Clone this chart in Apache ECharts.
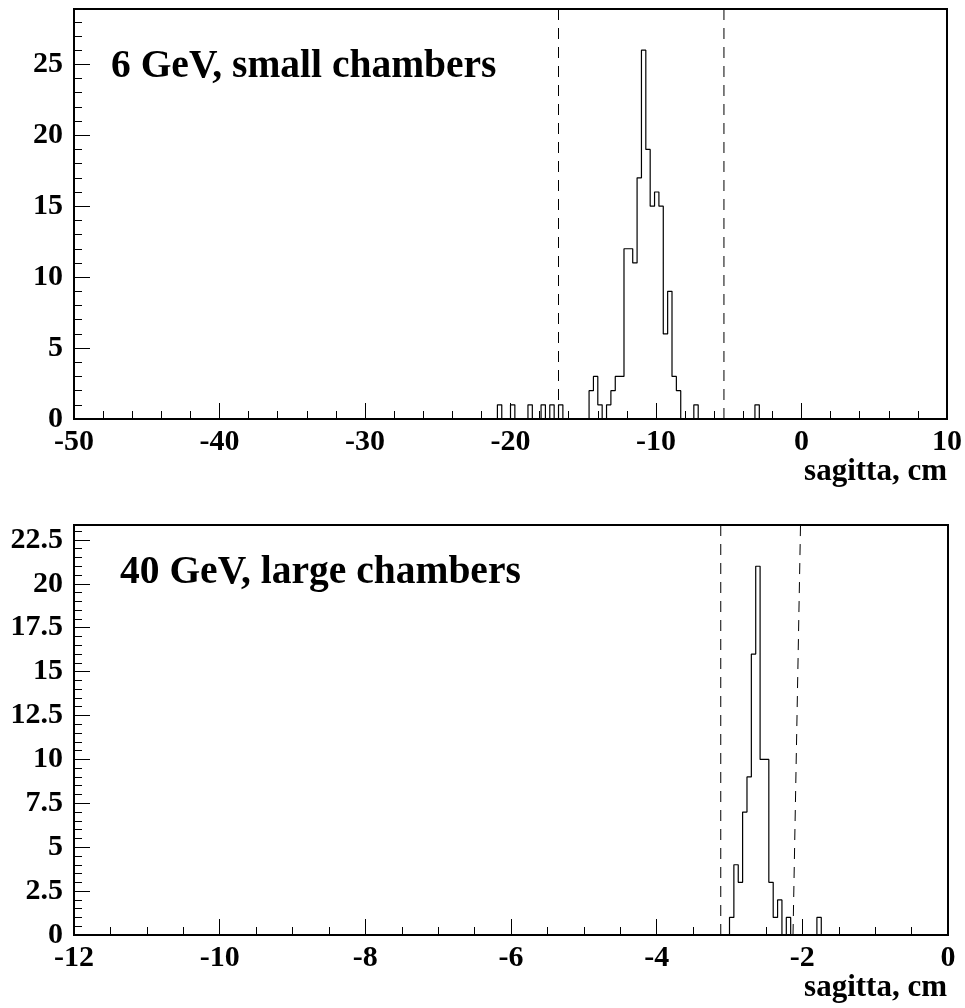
<!DOCTYPE html>
<html>
<head>
<meta charset="utf-8">
<script src="https://cdn.jsdelivr.net/npm/echarts@6/dist/echarts.min.js"></script>
<style>
html,body{margin:0;padding:0;background:#fff;}
#chart{width:965px;height:1008px;}
</style>
</head>
<body>
<div id="chart"></div>
<script>
// ---------- data ----------
const titles = ['6 GeV, small chambers', '40 GeV, large chambers'];
const xTitle = 'sagitta, cm';

// top histogram: 0.3 cm bins starting at -20.9
const topStart = -20.9;
const topWidth = 0.3;
const topCounts = [1,0,0,1,0,0,0,1,0,0,1,0,1,0,1,0,0,0,0,0,0,
  2,3,1,0,1,2,3,3,12,12,11,17,26,19,15,16,15,6,9,3,2,
  0,0,0,1,0,0,0,0,0,0,0,0,0,0,0,0,0,1];
const topCuts = [[-16.7, -16.7], [-5.33, -5.33]];     // [x at bottom, x at top]
const topXRange = [-50, 10];
const topYMax = 28.9;
const topYMajor = [0, 5, 10, 15, 20, 25];
const topYMinor = [1,2,3,4,6,7,8,9,11,12,13,14,16,17,18,19,21,22,23,24,26,27,28];

// bottom histogram: 0.06 cm bins starting at -3.0
const botStart = -3.0;
const botWidth = 0.06;
const botCounts = [1,4,3,7,9,16,21,10,10,3,1,2,0,1,0,0,0,0,0,0,1];
const botCuts = [[-3.12, -3.12], [-2.128, -2.025]];
const botXRange = [-12, 0];
const botYMax = 23.35;
const botYMajor = [0, 2.5, 5, 7.5, 10, 12.5, 15, 17.5, 20, 22.5];
const botYMinor = [0.5,1,1.5,2,3,3.5,4,4.5,5.5,6,6.5,7,8,8.5,9,9.5,10.5,11,11.5,12,13,13.5,14,14.5,
  15.5,16,16.5,17,18,18.5,19,19.5,20.5,21,21.5,22,23];

// ---------- helpers ----------
const FONT = 'Liberation Serif';
function r(v){ return Math.round(v * 100000) / 100000; }
function histPoints(start, width, counts){
  const pts = [[r(start), 0]];
  counts.forEach((c, i) => pts.push([r(start + i * width), c]));
  pts.push([r(start + counts.length * width), 0]);
  return pts;
}
const black = '#000';
function xAxis(gi, range, interval, minorSplit){
  return {
    gridIndex: gi, type: 'value', min: range[0], max: range[1], interval: interval,
    axisLine: {show: true, onZero: false, lineStyle: {color: black, width: 2}},
    axisTick: {show: true, inside: true, length: 16, lineStyle: {color: black, width: 1}},
    minorTick: {show: true, splitNumber: minorSplit, length: 8, lineStyle: {color: black, width: 1}},
    splitLine: {show: false}, minorSplitLine: {show: false},
    axisLabel: {fontFamily: FONT, fontWeight: 'bold', fontSize: 30, color: black, margin: 8}
  };
}
function yAxes(gi, max, major, minor){
  return [{
    gridIndex: gi, type: 'value', min: 0, max: max, position: 'left',
    axisLine: {show: true, onZero: false, lineStyle: {color: black, width: 2}},
    axisTick: {show: true, inside: true, length: 16, customValues: major, lineStyle: {color: black, width: 1}},
    splitLine: {show: false},
    axisLabel: {customValues: major, fontFamily: FONT, fontWeight: 'bold', fontSize: 30, color: black, margin: 11}
  }, {
    gridIndex: gi, type: 'value', min: 0, max: max, position: 'left',
    axisLine: {show: false, onZero: false},
    axisTick: {show: true, inside: true, length: 8, customValues: minor, lineStyle: {color: black, width: 1}},
    splitLine: {show: false},
    axisLabel: {show: false}
  }];
}
function cutSeries(cuts, xi, yi, ymax){
  return cuts.map(c => ({
    type: 'line', xAxisIndex: xi, yAxisIndex: yi, symbol: 'none', silent: true,
    data: [[c[0], 0], [c[1], ymax]],
    lineStyle: {color: black, width: 1, type: [11, 8]}
  }));
}

const yA = yAxes(0, topYMax, topYMajor, topYMinor).concat(yAxes(1, botYMax, botYMajor, botYMinor));

const option = {
  animation: false,
  backgroundColor: '#fff',
  title: [
    {text: titles[0], left: 111, top: 47, padding: 0,
     textStyle: {fontFamily: FONT, fontWeight: 'bold', fontSize: 39.5, color: black}},
    {text: titles[1], left: 120, top: 553, padding: 0,
     textStyle: {fontFamily: FONT, fontWeight: 'bold', fontSize: 39.5, color: black}},
    {text: xTitle, right: 18, top: 456, padding: 0,
     textStyle: {fontFamily: FONT, fontWeight: 'bold', fontSize: 31, color: black}},
    {text: xTitle, right: 18, top: 972, padding: 0,
     textStyle: {fontFamily: FONT, fontWeight: 'bold', fontSize: 31, color: black}}
  ],
  grid: [
    {left: 74, right: 17, top: 9, height: 410, show: true, borderColor: black, borderWidth: 2, backgroundColor: 'transparent'},
    {left: 74, right: 17, top: 525, height: 410, show: true, borderColor: black, borderWidth: 2, backgroundColor: 'transparent'}
  ],
  xAxis: [xAxis(0, topXRange, 10, 5), xAxis(1, botXRange, 2, 4)],
  yAxis: yA,
  series: [
    {type: 'line', xAxisIndex: 0, yAxisIndex: 0, step: 'end', symbol: 'none', silent: true,
     data: histPoints(topStart, topWidth, topCounts), lineStyle: {color: black, width: 1.2}},
    {type: 'line', xAxisIndex: 1, yAxisIndex: 2, step: 'end', symbol: 'none', silent: true,
     data: histPoints(botStart, botWidth, botCounts), lineStyle: {color: black, width: 1.2}}
  ].concat(cutSeries(topCuts, 0, 0, topYMax)).concat(cutSeries(botCuts, 1, 2, botYMax))
};

const chart = echarts.init(document.getElementById('chart'), null, {renderer: 'canvas'});
chart.setOption(option);
</script>
</body>
</html>
